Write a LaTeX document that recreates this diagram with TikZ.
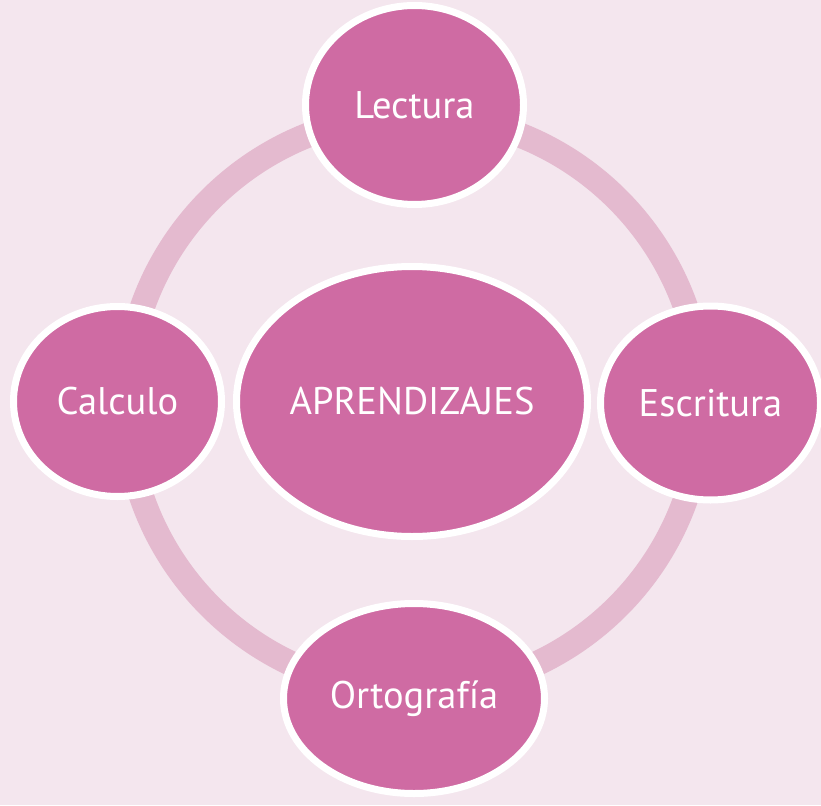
\documentclass[tikz,border=0pt]{standalone}
\usepackage{fontspec}
\setmainfont{PT Sans}
\usetikzlibrary{shapes.geometric}
\definecolor{bgpink}{HTML}{F4E6EE}
\definecolor{ringpink}{HTML}{E4BACF}
\definecolor{fillpink}{HTML}{CF6BA3}
\tikzset{
  topic/.style={ellipse, fill=fillpink, draw=white, line width=7pt, inner sep=0pt,
    text=white, font=\fontsize{38.5}{42}\selectfont}
}
\begin{document}
\begin{tikzpicture}[x=1pt,y=-1pt]
\fill[bgpink] (0,0) rectangle (821,805);
\useasboundingbox (0,0) rectangle (821,805);
\coordinate (c) at (414,403);
\draw[ringpink, line width=25pt] (c) circle[radius=288pt];
\node[topic, minimum width=218pt, minimum height=199pt] (lectura) at (414.5,105) {Lectura};
\node[topic, minimum width=220pt, minimum height=194pt] (escritura) at (710.5,403) {Escritura};
\node[topic, minimum width=208pt, minimum height=190pt] (calculo) at (117.5,401.5) {Calculo};
\node[topic, minimum width=261pt, minimum height=190pt] (orto) at (414,698.5) {Ortografía};
\node[topic, minimum width=351pt, minimum height=270pt] (apr) at (412,401.5) {APRENDIZAJES};
\end{tikzpicture}
\end{document}
